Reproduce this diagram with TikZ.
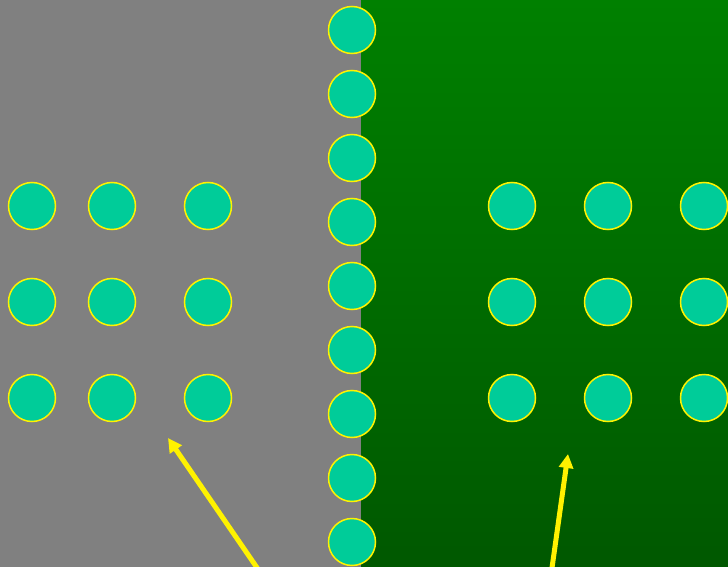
\documentclass[tikz,border=0pt]{standalone}
\usepackage{tikz}
\usetikzlibrary{arrows.meta}

\definecolor{bggray}{RGB}{128,128,128}
\definecolor{gtop}{RGB}{0,128,0}
\definecolor{gbottom}{RGB}{0,88,0}
\definecolor{ballfill}{RGB}{0,204,153}

\tikzset{
  ball/.style={circle, draw=yellow, line width=1.5pt, fill=ballfill,
    minimum size=47pt, inner sep=0pt},
  pointer/.style={draw=yellow, line width=5pt,
    -{Triangle[length=14pt,width=14pt]}}
}

\begin{document}
\begin{tikzpicture}[x=1pt,y=-1pt]

\useasboundingbox (0,0) rectangle (728,567);
\clip (0,0) rectangle (728,567);

% sfondo
\fill[bggray] (0,0) rectangle (361,567);
\shade[top color=gtop, bottom color=gbottom] (361,0) rectangle (728,567);

% parete
\foreach \i in {0,...,8}
  \node[ball] (w\i) at (352,30+64*\i) {};

% griglia sinistra
\foreach \r/\y in {1/206,2/302,3/398}
  \foreach \c/\x in {1/32,2/112,3/208}
    \node[ball] (l\r\c) at (\x,\y) {};

% griglia destra
\foreach \r/\y in {1/206,2/302,3/398}
  \foreach \c/\x in {1/512,2/608,3/704}
    \node[ball] (r\r\c) at (\x,\y) {};

% frecce
\coordinate (lfoot) at (262,575);
\coordinate (ltip) at (168,438);
\coordinate (rfoot) at (551,575);
\coordinate (rtip) at (568,454);
\draw[pointer] (lfoot) -- (ltip);
\draw[pointer] (rfoot) -- (rtip);

\end{tikzpicture}
\end{document}
